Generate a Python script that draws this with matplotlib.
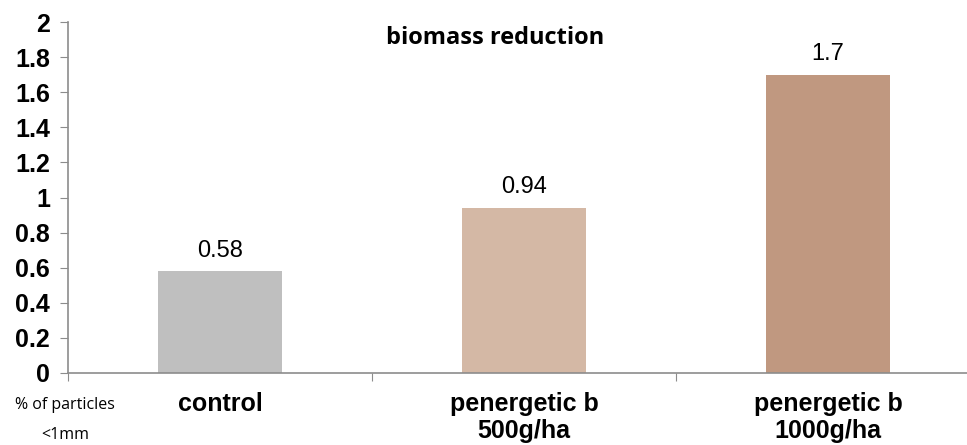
import matplotlib.pyplot as plt

# data
categories = ["control", "penergetic b\n500g/ha", "penergetic b\n1000g/ha"]
values = [0.58, 0.94, 1.7]
bar_colors = ["#BFBFBF", "#D4B8A5", "#C09880"]
y_ticks = [0, 0.2, 0.4, 0.6, 0.8, 1, 1.2, 1.4, 1.6, 1.8, 2]
y_tick_labels = ["0", "0.2", "0.4", "0.6", "0.8", "1", "1.2", "1.4", "1.6", "1.8", "2"]

fig = plt.figure(figsize=(9.67, 4.45), dpi=100)
# axes runs past the right edge like in the original
ax = fig.add_axes([68 / 967, 72 / 445, 912 / 967, 351 / 445])

x = range(len(categories))
ax.bar(x, values, width=0.405, color=bar_colors)

for i, v in enumerate(values):
    ax.text(i, v + 0.055, f"{v:g}", ha="center", va="bottom",
            fontsize=17, family="Liberation Sans")

ax.set_xlim(-0.5, 2.5)
ax.set_ylim(0, 2)
ax.set_yticks(y_ticks)
ax.set_yticklabels(y_tick_labels, fontsize=18, fontweight="bold", family="Liberation Sans")
ax.set_xticks([-0.5, 0.5, 1.5, 2.5])
ax.set_xticklabels([])
ax.set_xticks(list(x), minor=True)
ax.set_xticklabels(categories, minor=True, fontsize=18, fontweight="bold",
                   family="Liberation Sans", linespacing=1.15)
ax.tick_params(axis="x", which="minor", length=0, pad=14)
ax.tick_params(axis="x", which="major", length=6, color="#8C8C8C")
ax.tick_params(axis="y", length=6, color="#8C8C8C", pad=7)

for s in ["top", "right"]:
    ax.spines[s].set_visible(False)
for s in ["left", "bottom"]:
    ax.spines[s].set_color("#8C8C8C")
    ax.spines[s].set_linewidth(1.2)

fig.text(495 / 967, 1 - 38 / 445, "biomass reduction", ha="center", va="center",
         fontsize=17, fontweight="bold", family="Open Sans")
fig.text(65 / 967, 1 - 420 / 445, "% of particles\n<1mm", ha="center", va="center",
         fontsize=11.5, family="Open Sans", linespacing=2.15)

fig.savefig("out.png", dpi=100)
